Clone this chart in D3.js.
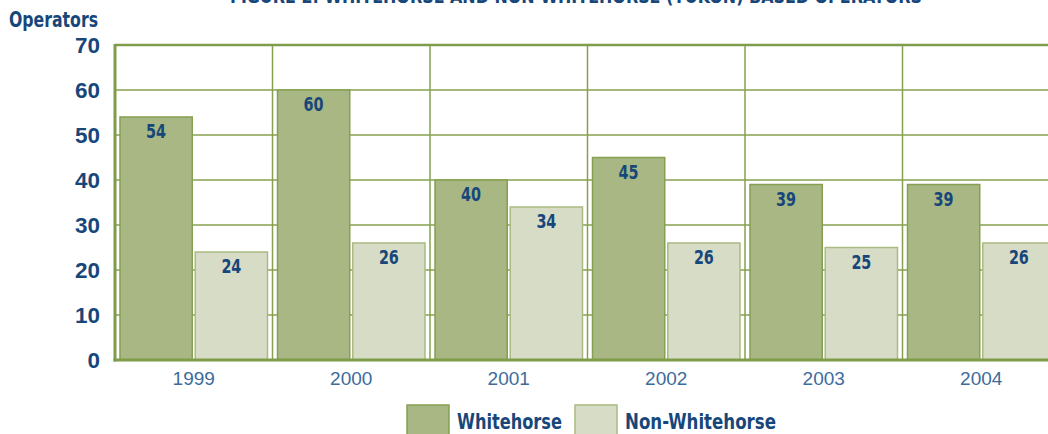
<!DOCTYPE html>
<html>
<head>
<meta charset="utf-8">
<script src="https://cdn.jsdelivr.net/npm/d3@7.9.0/dist/d3.min.js"></script>
<style>
  body { margin: 0; background: #fff; }
  svg { display: block; font-family: "DejaVu Sans Condensed", "DejaVu Sans", sans-serif; font-stretch: condensed; }
</style>
</head>
<body>
<div id="viz"></div>
<script>
const years = ["1999", "2000", "2001", "2002", "2003", "2004"];
const series = ["Whitehorse", "Non-Whitehorse"];
const whitehorse = [54, 60, 40, 45, 39, 39];
const nonWhitehorse = [24, 26, 34, 26, 25, 26];
const yTicks = [0, 10, 20, 30, 40, 50, 60, 70];
const title = "FIGURE 2: WHITEHORSE AND NON-WHITEHORSE (YUKON) BASED OPERATORS";

const width = 1048, height = 434;
const margin = { left: 115, top: 45, bottom: 74 };
const plotRight = 1060; // last band runs off the picture

const fills = { "Whitehorse": "#a9b784", "Non-Whitehorse": "#d7dcc7" };
const strokes = { "Whitehorse": "#84a050", "Non-Whitehorse": "#a9bb80" };
const blue = "#17477a";
const grid = "#86a04f";

const rows = years.map((y, i) => ({ year: y, values: [
  { key: "Whitehorse", value: whitehorse[i] },
  { key: "Non-Whitehorse", value: nonWhitehorse[i] }
]}));

const svg = d3.select("#viz").append("svg")
  .attr("width", width).attr("height", height);

const x = d3.scaleBand().domain(years).range([margin.left, plotRight]).padding(0);
const xInner = d3.scaleBand().domain(series).range([5, x.bandwidth() - 5]).paddingInner(0.04);
const y = d3.scaleLinear().domain([0, 70]).range([height - margin.bottom, margin.top]);

// title (cut off at top in the original)
svg.append("text")
  .attr("x", 576).attr("y", 3)
  .attr("text-anchor", "middle")
  .attr("fill", blue).attr("font-weight", "bold").attr("font-size", 19)
  .attr("textLength", 692).attr("lengthAdjust", "spacingAndGlyphs")
  .text(title);

// horizontal grid
svg.append("g").selectAll("line")
  .data(yTicks.filter(d => d > 0 && d < 70))
  .join("line")
  .attr("x1", margin.left).attr("x2", plotRight)
  .attr("y1", d => y(d)).attr("y2", d => y(d))
  .attr("stroke", grid).attr("stroke-width", 1.5);

// vertical band separators
svg.append("g").selectAll("line")
  .data(years.slice(1))
  .join("line")
  .attr("x1", d => x(d)).attr("x2", d => x(d))
  .attr("y1", y(70)).attr("y2", y(0))
  .attr("stroke", grid).attr("stroke-width", 1.5);

// bars
const groups = svg.append("g").selectAll("g")
  .data(rows)
  .join("g")
  .attr("transform", d => `translate(${x(d.year)},0)`);

groups.selectAll("rect")
  .data(d => d.values)
  .join("rect")
  .attr("x", d => xInner(d.key))
  .attr("y", d => y(d.value))
  .attr("width", xInner.bandwidth())
  .attr("height", d => y(0) - y(d.value))
  .attr("fill", d => fills[d.key])
  .attr("stroke", d => strokes[d.key])
  .attr("stroke-width", 1.5);

groups.selectAll("text")
  .data(d => d.values)
  .join("text")
  .attr("x", d => xInner(d.key) + xInner.bandwidth() / 2)
  .attr("y", d => y(d.value) + 21)
  .attr("text-anchor", "middle")
  .attr("fill", blue).attr("font-weight", "bold").attr("font-size", 19)
  .attr("textLength", 20).attr("lengthAdjust", "spacingAndGlyphs")
  .text(d => d.value);

// frame: top, left, bottom
svg.append("line")
  .attr("x1", margin.left).attr("x2", plotRight)
  .attr("y1", y(70)).attr("y2", y(70))
  .attr("stroke", "#7f9c48").attr("stroke-width", 2.5);
svg.append("line")
  .attr("x1", margin.left).attr("x2", margin.left)
  .attr("y1", y(70) - 1).attr("y2", y(0) + 1.5)
  .attr("stroke", "#7f9c48").attr("stroke-width", 3);
svg.append("line")
  .attr("x1", margin.left - 1.5).attr("x2", plotRight)
  .attr("y1", y(0)).attr("y2", y(0))
  .attr("stroke", "#7f9c48").attr("stroke-width", 3);

// y axis labels
const yAxis = d3.axisLeft(y).tickValues(yTicks).tickSize(0).tickPadding(15);
svg.append("g")
  .attr("transform", `translate(${margin.left},0)`)
  .call(yAxis)
  .call(g => g.select(".domain").remove())
  .call(g => g.selectAll("text")
    .attr("fill", blue).attr("font-weight", "bold").attr("font-size", 22)
    .attr("font-family", null)
    .attr("textLength", d => String(d).length * 12.5)
    .attr("lengthAdjust", "spacingAndGlyphs"));

svg.append("text")
  .attr("x", 9).attr("y", 27)
  .attr("fill", blue).attr("font-weight", "bold").attr("font-size", 21)
  .attr("textLength", 89).attr("lengthAdjust", "spacingAndGlyphs")
  .text("Operators");

// x axis labels
const xAxis = d3.axisBottom(x).tickSize(0).tickPadding(12);
svg.append("g")
  .attr("transform", `translate(0,${y(0)})`)
  .call(xAxis)
  .call(g => g.select(".domain").remove())
  .call(g => g.selectAll("text")
    .attr("fill", "#3d6c9c").attr("font-size", 19)
    .attr("font-family", null));

// legend
const legend = svg.append("g").attr("transform", "translate(407,405)");
const legendX = [0, 168];
const legendLen = [105, 151];
series.forEach((s, i) => {
  const item = legend.append("g").attr("transform", `translate(${legendX[i]},0)`);
  item.append("rect")
    .attr("x", 0).attr("y", 0).attr("width", 42).attr("height", 34)
    .attr("fill", fills[s]).attr("stroke", strokes[s]).attr("stroke-width", 1.5);
  item.append("text")
    .attr("x", 50).attr("y", 24)
    .attr("fill", blue).attr("font-weight", "bold").attr("font-size", 22)
    .attr("textLength", legendLen[i]).attr("lengthAdjust", "spacingAndGlyphs")
    .text(s);
});
</script>
</body>
</html>
